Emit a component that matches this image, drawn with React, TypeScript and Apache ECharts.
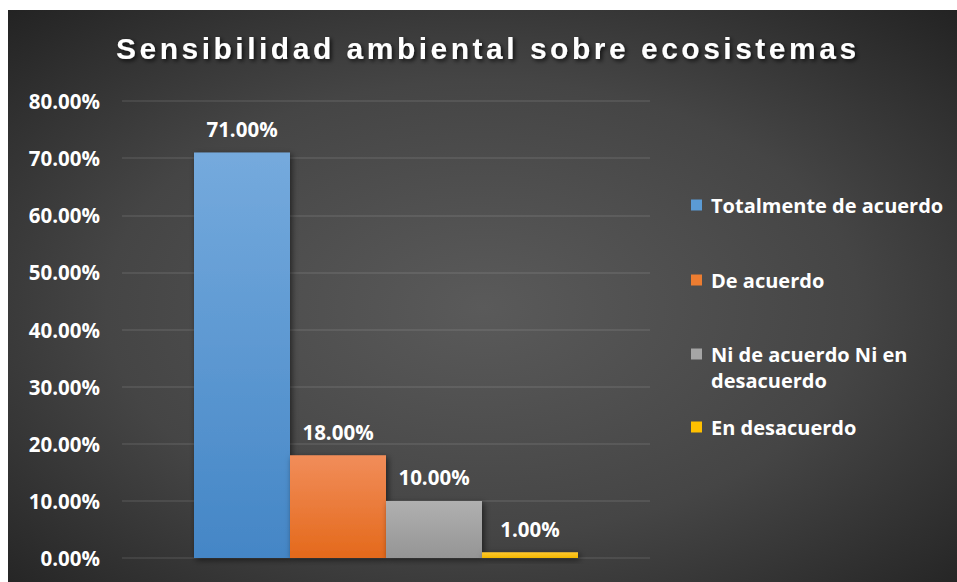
import React, { useEffect, useRef } from 'react';
import * as echarts from 'echarts';

const titleText = 'Sensibilidad ambiental sobre ecosistemas';
const categories = [''];
const seriesNames = [
  'Totalmente de acuerdo',
  'De acuerdo',
  'Ni de acuerdo Ni en desacuerdo',
  'En desacuerdo',
];
const seriesValues = [0.71, 0.18, 0.1, 0.01];
const legendLabels = [
  'Totalmente de acuerdo',
  'De acuerdo',
  '\nNi de acuerdo Ni en\ndesacuerdo',
  'En desacuerdo',
];
const yMin = 0;
const yMax = 0.8;
const yInterval = 0.1;

const barTop = ['#75aadd', '#f18d5a', '#b0b0b0', '#ffc82e'];
const barBottom = ['#4486c6', '#e4691b', '#959595', '#f2b600'];
const legendColors = ['#5b9bd5', '#ed7d31', '#a5a5a5', '#ffc000'];
const legendTops = [182, 257, 305, 404];

const FONT = 'Open Sans';

export default function App() {
  const ref = useRef<HTMLDivElement>(null);
  useEffect(() => {
    if (!ref.current) return;
    const chart = echarts.init(ref.current, undefined, { renderer: 'svg' });
    const pct = (v: number) => (v * 100).toFixed(2) + '%';

    const series = seriesNames.map((name, i) => ({
      name,
      type: 'bar',
      barWidth: 96,
      barGap: '0%',
      data: [seriesValues[i]],
      itemStyle: {
        color: new echarts.graphic.LinearGradient(0, 0, 0, 1, [
          { offset: 0, color: barTop[i] },
          { offset: 1, color: barBottom[i] },
        ]),
        shadowColor: 'rgba(0,0,0,0.55)',
        shadowBlur: 6,
        shadowOffsetX: 2,
        shadowOffsetY: 2,
      },
      label: {
        show: true,
        position: 'top',
        distance: 13,
        formatter: (p: any) => pct(p.value),
        color: '#ffffff',
        fontFamily: FONT,
        fontWeight: 'bold',
        fontSize: 20.5,
      },
    }));

    const legends = seriesNames.map((name, i) => ({
      data: [{ name, itemStyle: { color: legendColors[i] } }],
      orient: 'vertical',
      left: 683,
      top: legendTops[i],
      padding: 0,
      icon: 'rect',
      itemWidth: 11,
      itemHeight: 11,
      selectedMode: false,
      formatter: () => legendLabels[i],
      textStyle: {
        color: '#ffffff',
        fontFamily: FONT,
        fontWeight: 'bold',
        fontSize: 20,
        lineHeight: 26,
        padding: [0, 0, 0, 4],
      },
    }));

    chart.setOption({
      animation: false,
      backgroundColor: {
        type: 'radial',
        x: 0.5,
        y: 0.52,
        r: 0.72,
        colorStops: [
          { offset: 0, color: '#5a5a5a' },
          { offset: 0.55, color: '#454545' },
          { offset: 1, color: '#232323' },
        ],
      },
      title: {
        text: titleText,
        left: 108,
        top: 23,
        padding: 0,
        textStyle: {
          color: '#ffffff',
          fontFamily: 'Liberation Sans',
          fontWeight: 'bold',
          fontSize: 30,
          textShadowColor: 'rgba(0,0,0,0.75)',
          textShadowBlur: 4,
          textShadowOffsetX: 2,
          textShadowOffsetY: 2,
        },
      },
      legend: legends,
      grid: { left: 114, width: 528, top: 91, bottom: 24, containLabel: false },
      xAxis: {
        type: 'category',
        data: categories,
        axisLine: { show: false },
        axisTick: { show: false },
        axisLabel: { show: false },
      },
      yAxis: {
        type: 'value',
        min: yMin,
        max: yMax,
        interval: yInterval,
        axisLine: { show: false },
        axisTick: { show: false },
        axisLabel: {
          formatter: (v: number) => pct(v),
          color: '#ffffff',
          fontFamily: FONT,
          fontWeight: 'bold',
          fontSize: 20.5,
          margin: 22,
        },
        splitLine: { lineStyle: { color: 'rgba(255,255,255,0.11)', width: 1.5 } },
      },
      series,
    });

    const applySpacing = () => {
      const el = ref.current;
      if (!el) return;
      el.querySelectorAll('text').forEach((t) => {
        if (t.textContent === titleText) t.setAttribute('letter-spacing', '3.5');
      });
    };
    applySpacing();
    chart.on('rendered', applySpacing);
    const tm = setTimeout(applySpacing, 0);

    return () => {
      clearTimeout(tm);
      chart.dispose();
    };
  }, []);
  return (
    <div
      ref={ref}
      style={{ position: 'absolute', left: 8, top: 10, width: 949, height: 572 }}
    />
  );
}
